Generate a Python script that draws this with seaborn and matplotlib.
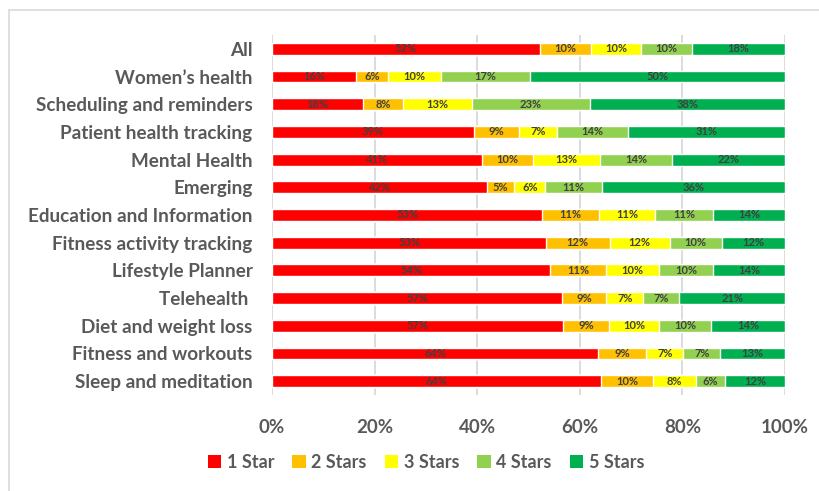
import matplotlib
matplotlib.use("Agg")
import matplotlib.pyplot as plt
import seaborn as sns
import pandas as pd
import numpy as np
from matplotlib.patches import Patch
from matplotlib.lines import Line2D

categories = ["All", "Women\u2019s health", "Scheduling and reminders", "Patient health tracking",
              "Mental Health", "Emerging", "Education and Information", "Fitness activity tracking",
              "Lifestyle Planner", "Telehealth ", "Diet and weight loss", "Fitness and workouts",
              "Sleep and meditation"]
series_names = ["1 Star", "2 Stars", "3 Stars", "4 Stars", "5 Stars"]
star1 = [52.2, 16.4, 17.7, 39.4, 40.9, 41.9, 52.7, 53.4, 54.2, 56.6, 56.7, 63.6, 64.1]
star2 = [10.0, 6.2, 7.9, 8.7, 10.0, 5.3, 11.0, 12.4, 10.9, 8.6, 9.0, 9.4, 10.2]
star3 = [9.7, 10.3, 13.3, 7.4, 13.0, 6.1, 11.0, 11.7, 10.4, 7.2, 9.7, 7.2, 8.4]
star4 = [9.9, 17.3, 23.0, 13.9, 14.1, 11.0, 11.2, 10.2, 10.4, 7.0, 10.2, 7.2, 5.6]
star5 = [18.2, 49.8, 38.1, 30.6, 22.0, 35.7, 14.1, 12.3, 14.1, 20.6, 14.4, 12.6, 11.7]
colors = ["#FF0000", "#FFC000", "#FFFF00", "#92D050", "#00B050"]
x_ticks = [0, 20, 40, 60, 80, 100]

sns.set_theme(style="white")
plt.rcParams["font.family"] = ["Lato", "DejaVu Sans"]
TXT = "#595959"

df = pd.DataFrame({"category": categories, "1 Star": star1, "2 Stars": star2,
                   "3 Stars": star3, "4 Stars": star4, "5 Stars": star5})
cum = df[series_names].cumsum(axis=1)

fig = plt.figure(figsize=(8.2, 4.91), dpi=100)
W, H = 820, 491
ax = fig.add_axes([272 / W, 1 - 395 / H, (785 - 272) / W, (395 - 35) / H])

for x in x_ticks:
    ax.axvline(x, color="#D9D9D9", lw=1.3, zorder=0)

for i in range(len(series_names) - 1, -1, -1):
    name = series_names[i]
    sns.barplot(x=cum[name], y=df["category"], color=colors[i], width=0.43,
                orient="h", ax=ax, saturation=1, zorder=2)

for i, name in enumerate(series_names):
    for j in range(len(categories)):
        v = df[name][j]
        c = cum[name][j] - v / 2
        ax.text(c, j, f"{v:.0f}%", ha="center", va="center", fontsize=8,
                color="#404040", fontweight="bold", zorder=3)

ax.set_xlim(0, 100)
ax.set_ylim(12.5, -0.5)
ax.set_xlabel("")
ax.set_ylabel("")
ax.set_xticks(x_ticks)
ax.set_xticklabels([f"{t}%" for t in x_ticks], fontsize=13.5, fontweight="bold", color=TXT)
ax.tick_params(axis="x", pad=17, length=0)
ax.tick_params(axis="y", pad=14, length=0)
for lbl in ax.get_yticklabels():
    lbl.set_fontsize(13.6)
    lbl.set_fontweight("bold")
    lbl.set_color(TXT)
for s in ax.spines.values():
    s.set_visible(False)

handles = [Patch(facecolor=c, edgecolor="none") for c in colors]
fig.legend(handles, series_names, loc="center", bbox_to_anchor=(426 / W, 1 - 462 / H),
           ncol=5, frameon=False, handlelength=0.75, handleheight=0.75, handletextpad=0.3,
           columnspacing=1.0, prop={"weight": "bold", "size": 13, "family": ["Lato", "DejaVu Sans"]},
           labelcolor=TXT)

# chart border
fig.add_artist(Line2D([9 / W, 1.0], [1 - 10 / H, 1 - 10 / H], color="#D9D9D9", lw=1.2))
fig.add_artist(Line2D([9 / W, 9 / W], [0.0, 1 - 10 / H], color="#D9D9D9", lw=1.2))

fig.savefig("out.png", dpi=100)
